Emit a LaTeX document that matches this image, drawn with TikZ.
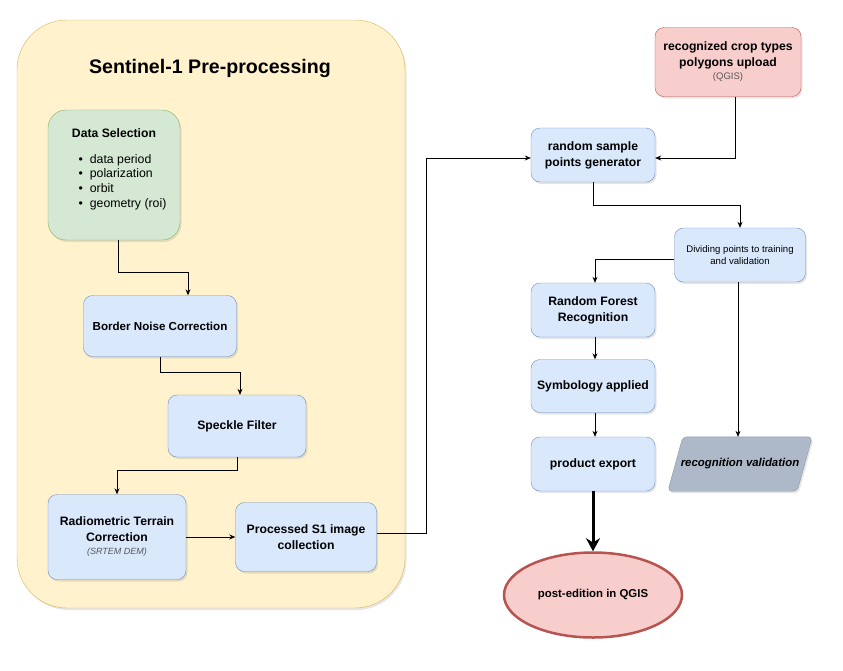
\documentclass[tikz,border=0pt]{standalone}
\usepackage{fontspec}
\setmainfont{Liberation Sans}
\usetikzlibrary{arrows.meta,shapes.geometric,shadows}

\definecolor{prefill}{HTML}{FFF2CC}
\definecolor{preline}{HTML}{D6B656}
\definecolor{greenfill}{HTML}{D5E8D4}
\definecolor{greenline}{HTML}{82B366}
\definecolor{bluefill}{HTML}{DAE8FC}
\definecolor{blueline}{HTML}{6C8EBF}
\definecolor{redfill}{HTML}{F8CECC}
\definecolor{redline}{HTML}{B85450}
\definecolor{grayfill}{HTML}{ADB8C9}
\definecolor{grayline}{HTML}{8C9AB0}
\definecolor{notegray}{HTML}{555555}

\begin{document}
\begin{tikzpicture}[x=1pt,y=-1pt,
    shade/.style={drop shadow={shadow xshift=1.5pt,shadow yshift=-2pt,opacity=0.2}},
    box/.style={draw=blueline,fill=bluefill,rounded corners=9pt,align=center,shade,
        font=\bfseries\fontsize{12.2}{16}\selectfont,inner sep=2pt},
    redbox/.style={box,draw=redline,fill=redfill},
    flow/.style={-{Stealth[length=6pt,width=5pt]},line width=0.7pt},
    bigflow/.style={-{Stealth[length=13pt,width=14pt]},line width=3pt}
]
\useasboundingbox (0,0) rectangle (843,670);

% pre-processing block
\node[draw=preline,fill=prefill,rounded corners=50pt,minimum width=388pt,minimum height=588pt,shade] (cont) at (211,314) {};
\node[font=\bfseries\fontsize{19.6}{22}\selectfont] (title) at (210,68) {Sentinel-1 Pre-processing};

\node[draw=greenline,fill=greenfill,rounded corners=18pt,minimum width=132pt,minimum height=130pt,shade] (dsel) at (114,175) {};
\node[font=\bfseries\fontsize{12.2}{14}\selectfont] (dseltitle) at (114,133) {Data Selection};
\node[anchor=west,align=left,font=\fontsize{12.3}{14.7}\selectfont] (dsellist) at (75,182)
    {\textbullet\hspace{7pt}data period\\ \textbullet\hspace{7pt}polarization\\
     \textbullet\hspace{7pt}orbit\\ \textbullet\hspace{7pt}geometry (roi)};

\node[box,minimum width=153pt,minimum height=61pt,font=\bfseries\fontsize{11.6}{14}\selectfont] (border) at (160,326) {Border Noise Correction};
\node[box,minimum width=138pt,minimum height=62pt] (speckle) at (237,426) {Speckle Filter};
\node[box,minimum width=138pt,minimum height=85pt] (rtc) at (117,537)
    {Radiometric Terrain\\Correction\\[-3pt]{\normalfont\itshape\fontsize{9}{10}\selectfont\color{notegray}(SRTEM DEM)}};
\node[box,minimum width=141pt,minimum height=69pt] (proc) at (306,537) {Processed S1 image\\collection};

% classification
\node[redbox,minimum width=146pt,minimum height=69pt] (crop) at (728,62)
    {recognized crop types\\polygons upload\\[-3pt]{\normalfont\fontsize{9.5}{11}\selectfont\color{notegray}(QGIS)}};
\node[box,minimum width=124pt,minimum height=54pt] (rsp) at (593,155) {random sample\\points generator};
\node[box,minimum width=131pt,minimum height=54pt,font=\fontsize{9.6}{12.5}\selectfont] (divide) at (740,255)
    {Dividing points to training\\and validation};
\node[box,minimum width=124pt,minimum height=54pt] (rf) at (593,310) {Random Forest\\Recognition};
\node[box,minimum width=124pt,minimum height=53pt] (sym) at (593,386) {Symbology applied};
\node[box,minimum width=124pt,minimum height=54pt] (export) at (593,464) {product export};
\node[minimum width=144pt,minimum height=54pt] (valid) at (740,464) {};
\draw[draw=grayline,fill=grayfill,rounded corners=4pt,shade] (valid.south west) -- ([xshift=-15pt]valid.south east)
    -- (valid.north east) -- ([xshift=15pt]valid.north west) -- cycle;
\node[font=\bfseries\itshape\fontsize{11.4}{13}\selectfont] (validtext) at (valid) {recognition validation};
\node[draw=redline,fill=redfill,line width=2.5pt,ellipse,minimum width=178pt,minimum height=85pt,
    font=\bfseries\fontsize{11.4}{13}\selectfont] (post) at (593,595) {post-edition in QGIS};

% connectors
\draw[flow] ([xshift=4pt]dsel.south) -- ++(0,32) -| ([xshift=28pt]border.north);
\draw[flow] (border.south) -- ++(0,16) -| ([xshift=3pt]speckle.north);
\draw[flow] (speckle.south) -- ++(0,13) -| (rtc.north);
\draw[flow] (rtc.east) -- (proc.west);
\draw[flow] ([yshift=4pt]proc.east) -- ++(50,0) |- ([yshift=-3pt]rsp.west);
\draw[flow] ([xshift=7pt]crop.south) |- ([yshift=-3pt]rsp.east);
\draw[flow] (rsp.south) -- ++(0,23) -| (divide.north);
\draw[flow] ([yshift=-4pt]divide.west) -| ([xshift=2pt]rf.north);
\draw[flow] ([xshift=-2pt]divide.south) -- ([xshift=-2pt]valid.north);
\draw[flow] ([xshift=2pt]rf.south) -- ([xshift=2pt]sym.north);
\draw[flow] ([xshift=2pt]sym.south) -- ([xshift=2pt]export.north);
\draw[bigflow] (export.south) -- (post.north);
\end{tikzpicture}
\end{document}
